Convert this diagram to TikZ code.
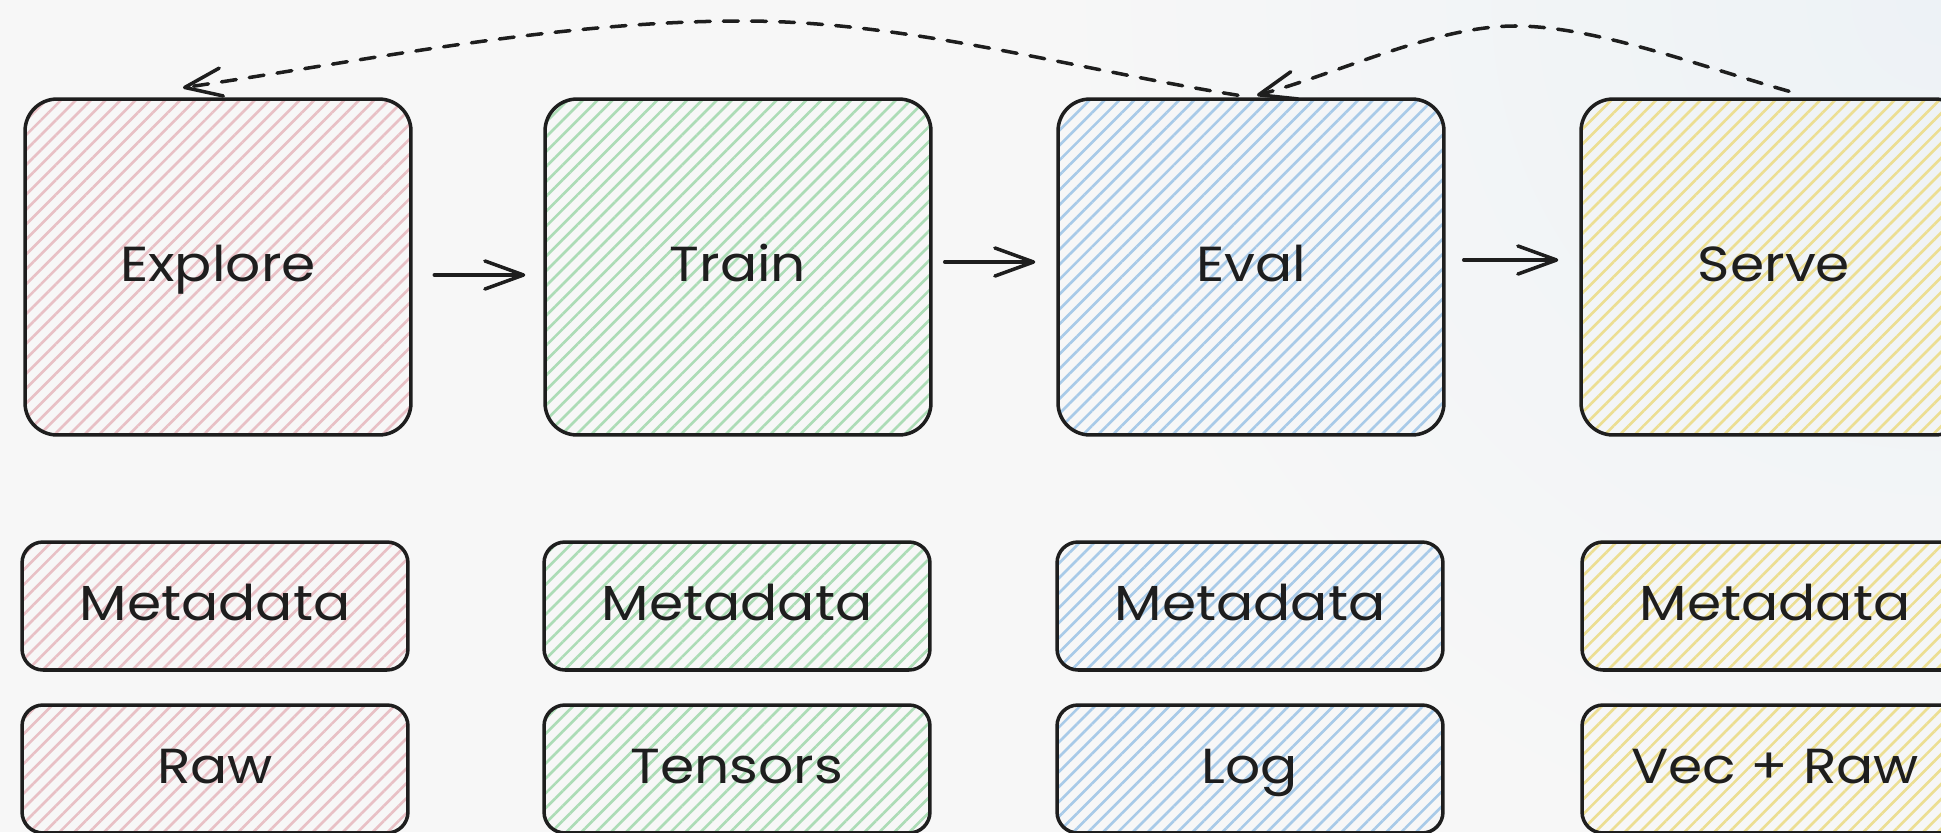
\documentclass[tikz,border=0pt]{standalone}
\usepackage{fontspec}
\setmainfont[FakeStretch=1.12]{Poppins}
\usetikzlibrary{arrows.meta,patterns.meta}
\definecolor{bgc}{RGB}{247,247,247}
\definecolor{bgl}{RGB}{237,242,246}
\definecolor{ink}{RGB}{30,30,30}
\definecolor{hpink}{RGB}{232,192,197}
\definecolor{hgreen}{RGB}{172,220,182}
\definecolor{hblue}{RGB}{168,202,232}
\definecolor{hyellow}{RGB}{236,222,146}
\tikzset{
  hatch/.style={pattern={Lines[angle=45,distance=6pt,line width=1.5pt]},pattern color=#1},
  bigbox/.style={draw=ink,line width=2pt,rounded corners=0.64cm,minimum width=7.72cm,minimum height=6.72cm,inner sep=0pt,hatch=#1},
  smallbox/.style={draw=ink,line width=2pt,rounded corners=0.42cm,minimum width=7.72cm,minimum height=2.56cm,inner sep=0pt,hatch=#1},
  lbl/.style={text=ink,font=\fontsize{28}{34}\selectfont,text height=21pt,text depth=5pt},
  arr/.style={draw=ink,line width=2pt,line cap=round,line join=round,-{Straight Barb[length=22pt,width=16pt,line cap=round,line join=round]}},
  dasharr/.style={draw=ink,line width=2pt,dash pattern=on 8.5pt off 7.5pt,line cap=round,-{Straight Barb[length=21pt,width=16pt,line cap=round,line join=round]}}
}
\begin{document}
\begin{tikzpicture}[x=0.02cm,y=-0.02cm]
\useasboundingbox (0,0) rectangle (1941,832);
\fill[bgc] (0,0) rectangle (1941,832);
\clip (0,0) rectangle (1941,832);
\shade[inner color=bgl,outer color=bgc] (1941,0) circle (900);

% big boxes
\node[bigbox=hpink,lbl]   (ex) at (218,267)  {Explore};
\node[bigbox=hgreen,lbl]  (tr) at (738,267)  {Train};
\node[bigbox=hblue,lbl]   (ev) at (1251,267) {Eval};
\node[bigbox=hyellow,lbl] (sv) at (1774,267) {Serve};

% small boxes
\node[smallbox=hpink,lbl]   (exm) at (215,606)  {Metadata};
\node[smallbox=hgreen,lbl]  (trm) at (737,606)  {Metadata};
\node[smallbox=hblue,lbl]   (evm) at (1250,606) {Metadata};
\node[smallbox=hyellow,lbl] (svm) at (1775,606) {Metadata};
\node[smallbox=hpink,lbl]   (exr) at (215,769)  {Raw};
\node[smallbox=hgreen,lbl]  (trr) at (737,769)  {Tensors};
\node[smallbox=hblue,lbl]   (evr) at (1250,769) {Log};
\node[smallbox=hyellow,lbl] (svr) at (1775,769) {Vec + Raw};

% horizontal arrows
\draw[arr] ([shift={(22,8)}]ex.east) -- ([shift={(-18,8)}]tr.west);
\draw[arr] ([shift={(12,-5)}]tr.east) -- ([shift={(-21,-5)}]ev.west);
\draw[arr] ([shift={(18,-7)}]ev.east) -- ([shift={(-21,-7)}]sv.west);

% dashed feedback arrows
\coordinate (d1s) at ([shift={(-13,-2)}]ev.north);
\coordinate (d1e) at ([shift={(-35,-10)}]ex.north);
\coordinate (d2s) at ([shift={(15,-6)}]sv.north);
\coordinate (d2e) at ([shift={(6,-2)}]ev.north);
\draw[dasharr] (d1s) .. controls (1073,69) and (908,21) .. (743,21)
                     .. controls (556,21) and (370,60) .. (d1e);
\draw[dasharr] (d2s) .. controls (1699,66) and (1595,26) .. (1515,26)
                     .. controls (1435,26) and (1337,74) .. (d2e);
\end{tikzpicture}
\end{document}
